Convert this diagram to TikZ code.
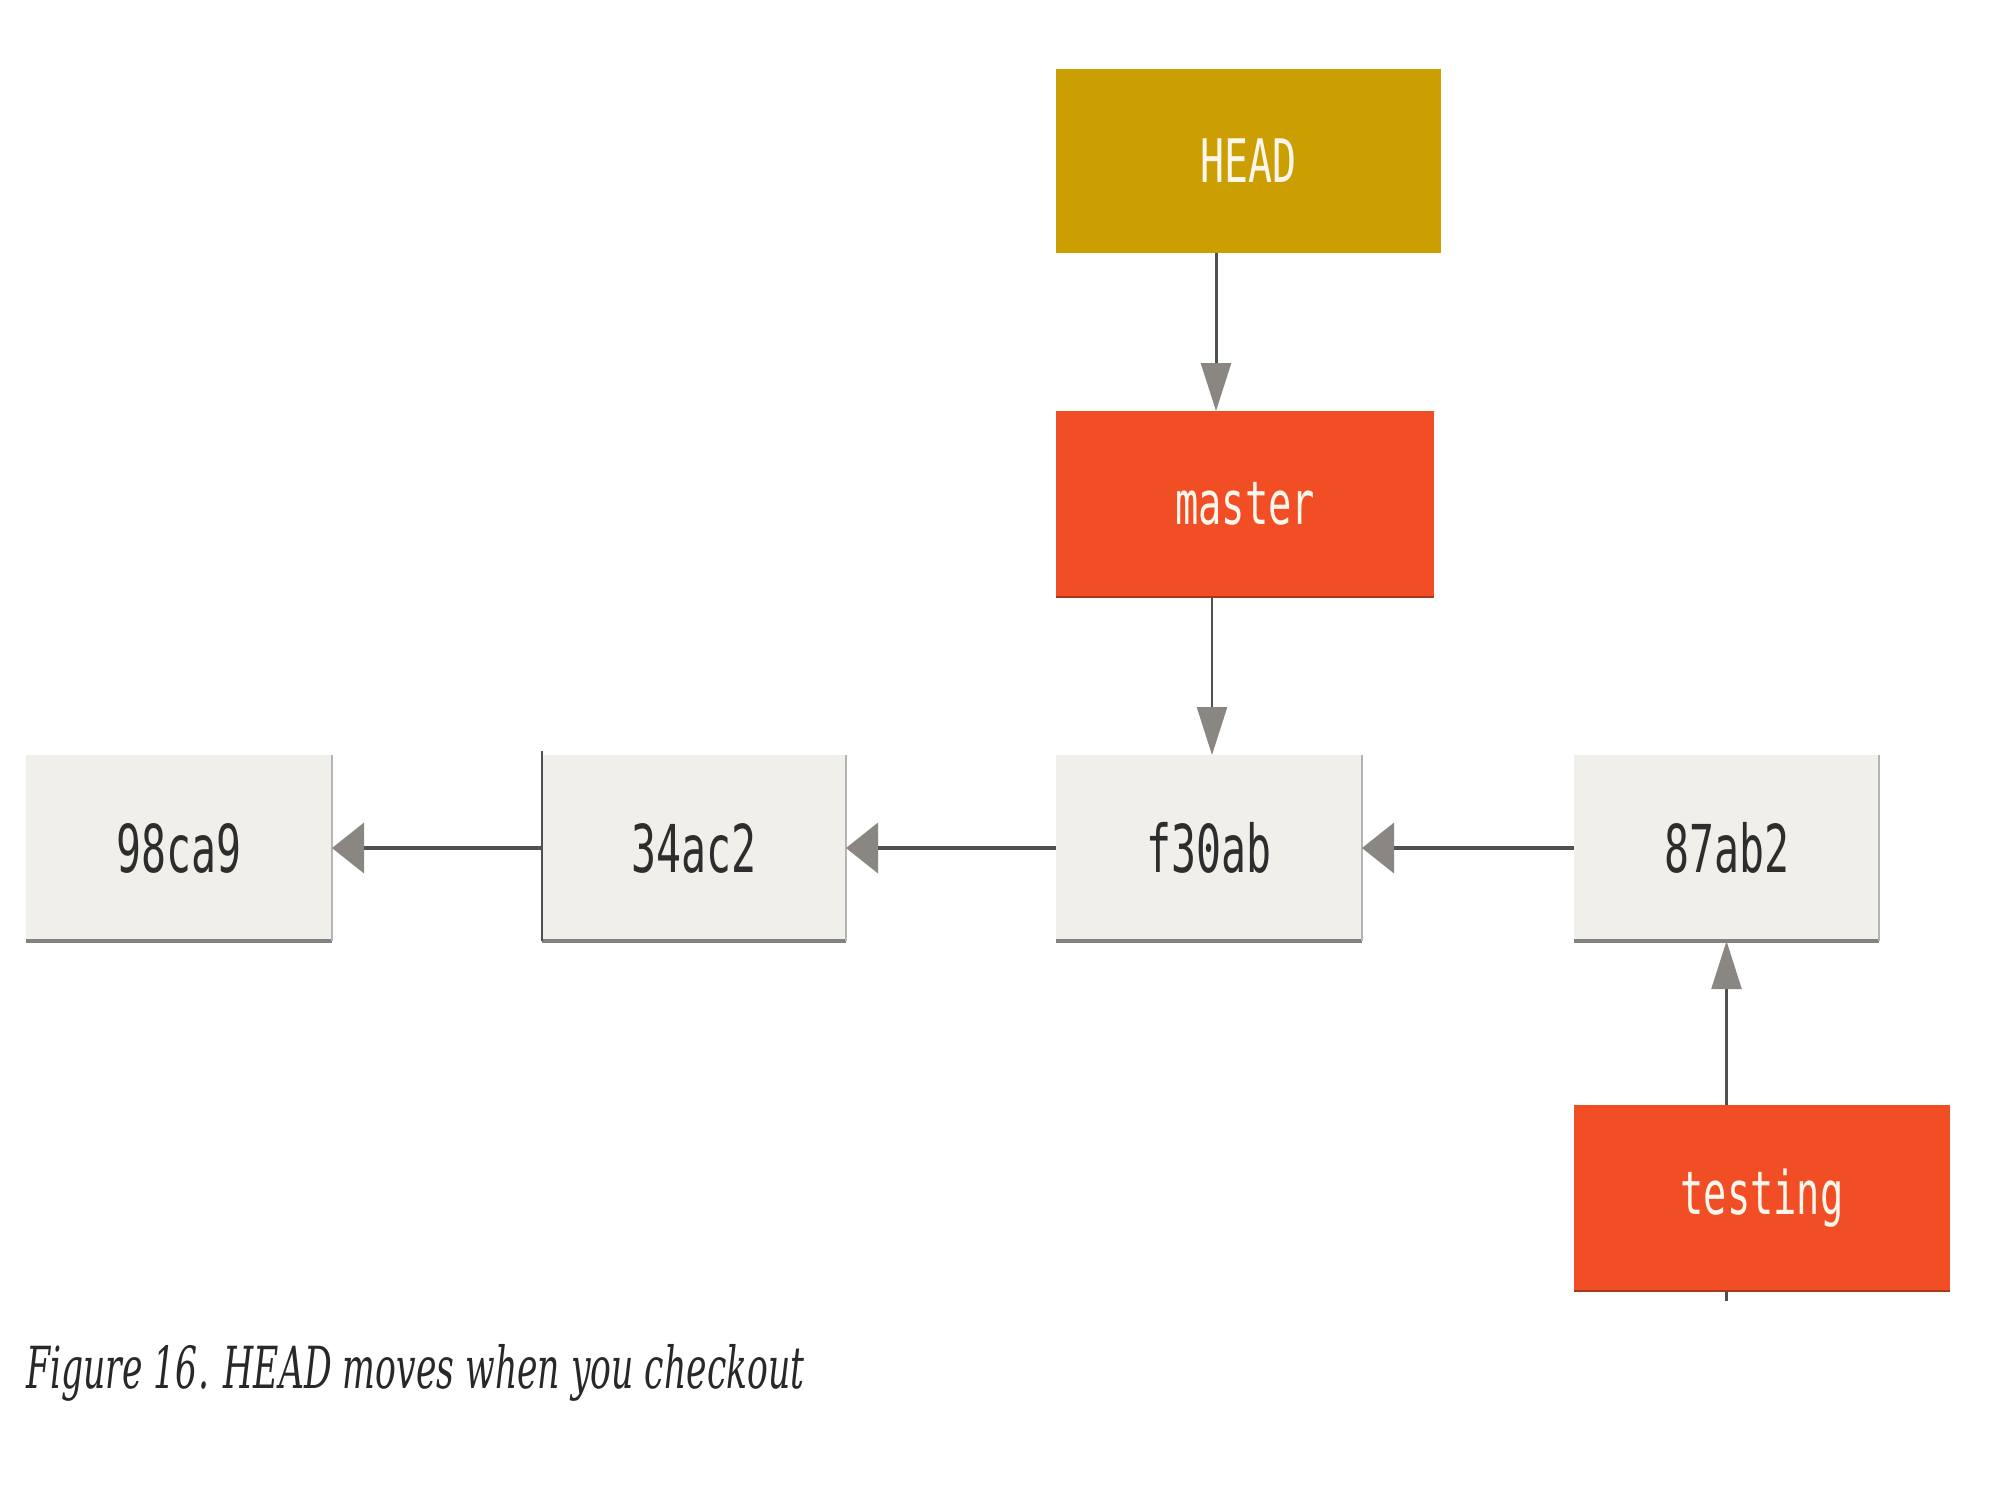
\documentclass[tikz,border=0pt]{standalone}
\usepackage{fontspec}
\usepackage{graphicx}
\setmonofont{DejaVu Sans Mono}
\newfontfamily\capfont{DejaVu Serif}
\usetikzlibrary{arrows.meta,backgrounds}
\definecolor{headfill}{RGB}{203,158,2}
\definecolor{branchfill}{RGB}{242,78,37}
\definecolor{commitfill}{RGB}{240,239,234}
\definecolor{committext}{RGB}{45,45,45}
\definecolor{labeltext}{RGB}{252,246,236}
\definecolor{linegray}{RGB}{80,80,80}
\definecolor{tipgray}{RGB}{138,135,130}
\definecolor{edgegray}{RGB}{130,130,128}
\definecolor{captext}{RGB}{40,40,40}
\begin{document}
\begin{tikzpicture}[x=0.5pt,y=-0.5pt,
  box/.style={rectangle, inner sep=0pt, outer sep=0pt, minimum height=93pt},
  commitbox/.style={box, fill=commitfill, minimum width=153pt, text=committext,
    font=\ttfamily\fontsize{33}{33}\selectfont},
  labelbox/.style={box, text=labeltext, font=\ttfamily\fontsize{30}{30}\selectfont},
  vline/.style={draw=linegray, line width=1.5pt, -{Triangle[length=24pt,width=15pt,color=tipgray]}},
  hline/.style={draw=linegray, line width=2pt, -{Triangle[length=16pt,width=25pt,color=tipgray]}},
  bottomedge/.style={draw=edgegray, line width=1.8pt},
  sideedge/.style={draw=edgegray!60, line width=0.6pt}
]
\useasboundingbox[fill=white] (0,0) rectangle (2000,1500);

% branch labels
\node[labelbox, fill=headfill, minimum width=192.5pt, minimum height=92pt] (head) at (1248.5,161)
  {\resizebox{48pt}{\height}{HEAD}};
\node[labelbox, fill=branchfill, minimum width=189pt] (master) at (1245,504)
  {\resizebox{70pt}{\height}{master}};
\node[labelbox, fill=branchfill, minimum width=188pt] (testing) at (1762,1198)
  {\resizebox{81.5pt}{\height}{testing}};

% commits
\node[commitbox] (c98) at (179,848) {\resizebox{62.5pt}{\height}{98ca9}};
\node[commitbox, minimum width=152pt] (c34) at (694,848) {\resizebox{62.5pt}{\height}{34ac2}};
\node[commitbox] (cf3) at (1209,848) {\resizebox{62.5pt}{\height}{f30ab}};
\node[commitbox, minimum width=152.5pt] (c87) at (1726.5,848) {\resizebox{62.5pt}{\height}{87ab2}};

% box edges
\foreach \n in {c98,c34,cf3,c87} {
  \draw[bottomedge] (\n.south west) -- (\n.south east);
  \draw[sideedge] (\n.north east) -- (\n.south east);
}
\draw[draw=branchfill!70!black, line width=1pt] (master.south west) -- (master.south east);
\draw[draw=branchfill!70!black, line width=1pt] (testing.south west) -- (testing.south east);
\draw[draw=linegray, line width=1pt] ([yshift=2pt]c34.north west) -- (c34.south west);

% connectors
\coordinate (xa) at (1216,0);
\coordinate (xb) at (1212,0);
\draw[vline] (xa |- head.south) -- (xa |- master.north);
\draw[vline, line width=1.2pt] (xb |- master.south) -- (xb |- cf3.north);
\draw[hline] (c34.west) -- (c98.east);
\draw[hline] (cf3.west) -- (c34.east);
\draw[hline] (c87.west) -- (cf3.east);
\draw[vline, line width=1.2pt] (c87.south |- testing.north) -- (c87.south);
\draw[draw=linegray, line width=1.2pt] (c87.south |- testing.south) -- ++(0,10);

% caption
\node[anchor=base west, inner sep=0pt, text=captext,
  font=\capfont\itshape\fontsize{29}{29}\selectfont] (caption) at (26,1388)
  {\resizebox{389pt}{\height}{Figure 16. HEAD moves when you checkout}};
\end{tikzpicture}
\end{document}
